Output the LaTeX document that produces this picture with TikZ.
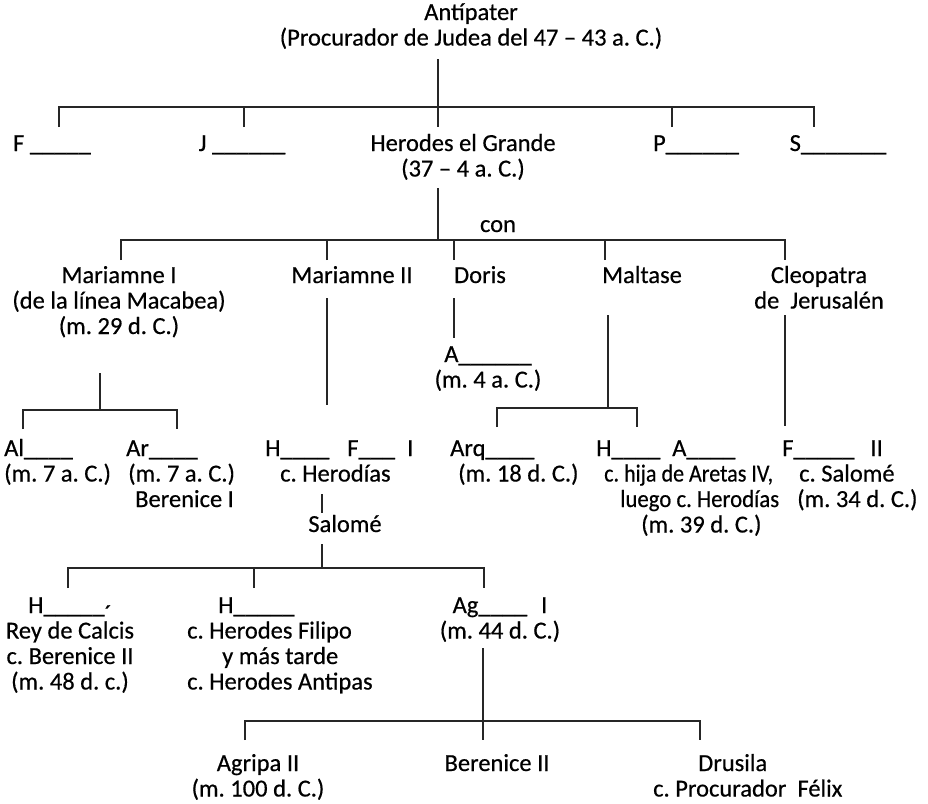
\documentclass[tikz,border=0pt]{standalone}
\usepackage{fontspec}
\setmainfont[FakeBold=0.5]{Carlito}
\frenchspacing
\begin{document}
\begin{tikzpicture}[x=1pt,y=-1pt,
  lbl/.style={inner sep=0pt, font=\fontsize{24.5}{25.5}\selectfont\frenchspacing, align=center, anchor=base, text=black},
  lbll/.style={lbl, align=left, anchor=base west},
  link/.style={line width=1.3pt, draw=black!85}]
\useasboundingbox (0,0) rectangle (928,803);
% ---- texts (anchor = baseline of the last line) ----
\node[lbl] (antip) at (471,45.5) {Antípater\\(Procurador de Judea del 47 – 43 a. C.)};
\node[lbl] (f) at (52,151) {F \_\_\_\_\_};
\node[lbl] (j) at (242,151) {J \_\_\_\_\_\_};
\node[lbl] (herodes) at (463,176.5) {Herodes el Grande\\(37 – 4 a. C.)};
\node[lbl] (p) at (696,151) {P\_\_\_\_\_\_};
\node[lbl] (s) at (838,151) {S\_\_\_\_\_\_\_};
\node[lbl] (con) at (498,232) {con};
\node[lbl] (mar1) at (119,334) {Mariamne I\\(de la línea Macabea)\\(m. 29 d. C.)};
\node[lbl] (mar2) at (352,283) {Mariamne II};
\node[lbl] (doris) at (480,283) {Doris};
\node[lbl] (maltase) at (642,283) {Maltase};
\node[lbl] (cleo) at (819,308.5) {Cleopatra\\de\ \ Jerusalén};
\node[lbl] (antig) at (488,387.5) {A\_\_\_\_\_\_\\(m. 4 a. C.)};
\node[lbll] (al) at (4,481.5) {Al\_\_\_\_\\(m. 7 a. C.)};
\node[lbll] (ar) at (126,507) {Ar\_\_\_\_\\\hspace*{2pt}(m. 7 a. C.)\\\hspace*{9pt}Berenice I};
\node[lbll] (hfi) at (265,481.5) {H\_\_\_\_\hspace{18pt}F\_\_\_\hspace{12pt}I\\\hspace*{15pt}c. Herodías};
\node[lbll] (arq) at (450,481.5) {Arq\_\_\_\_\\\hspace*{8pt}(m. 18 d. C.)};
\node[lbll] (ha) at (596,532.5) {H\_\_\_\_\hspace{12pt}A\_\_\_\_\\\hspace*{8pt}\scalebox{0.9}[1]{c. hija de Aretas IV,}\\\hspace*{24pt}\scalebox{0.93}[1]{luego c. Herodías}\\\hspace*{45pt}(m. 39 d. C.)};
\node[lbll] (fii) at (782,507) {F\_\_\_\_\_\hspace{16pt}II\\\hspace*{17pt}c. Salomé\\\hspace*{15pt}(m. 34 d. C.)};
\node[lbl] (salome) at (345,532) {Salomé};
\node[lbl] (hc) at (70,689.5) {H\_\_\_\_\_\raisebox{-9pt}[0pt][0pt]{´}\\Rey de Calcis\\c. Berenice II\\(m. 48 d. c.)};
\node[lbll] (hf) at (187,689.5) {\hspace*{31pt}H\_\_\_\_\_\\c. Herodes Filipo\\\hspace*{35pt}y más tarde\\c. Herodes Antipas};
\node[lbl] (ag) at (500,638.5) {Ag\_\_\_\_\hspace{14pt}I\\(m. 44 d. C.)};
\node[lbl] (agripa) at (258,796.5) {Agripa II\\(m. 100 d. C.)};
\node[lbl] (ber2) at (497,771) {Berenice II};
\node[lbll] (drus) at (653,796.5) {\hspace*{45pt}Drusila\\c. Procurador\ \ Félix};
% ---- connector points ----
\coordinate (a0) at (438,59);  \coordinate (a1) at (438,107);
\coordinate (fT) at (59,127);  \coordinate (jT) at (244,127);
\coordinate (hT) at (438,127); \coordinate (pT) at (672,127);
\coordinate (sT) at (814,127);
\coordinate (b0) at (438,188); \coordinate (b1) at (438,240);
\coordinate (m1T) at (121,260); \coordinate (m2T) at (327,260);
\coordinate (dT) at (454,260);  \coordinate (mtT) at (605,260);
\coordinate (cT) at (785,260);
\coordinate (m2a) at (327,298); \coordinate (m2b) at (327,405);
\coordinate (da) at (454,298);  \coordinate (db) at (454,338);
\coordinate (mta) at (608,315); \coordinate (mtb) at (608,408);
\coordinate (arqT) at (497,427); \coordinate (haT) at (637,427);
\coordinate (ca) at (785,315);  \coordinate (cb) at (785,426);
\coordinate (m1a) at (100,373); \coordinate (m1b) at (100,410);
\coordinate (alT) at (23,429);  \coordinate (arT) at (177,429);
\coordinate (ha0) at (322,494); \coordinate (ha1) at (322,513);
\coordinate (sa0) at (322,544); \coordinate (sa1) at (322,568);
\coordinate (hcT) at (68,588);  \coordinate (hfT) at (254,588);
\coordinate (agT) at (484,588);
\coordinate (g0) at (483,648);  \coordinate (g1) at (483,721);
\coordinate (g2) at (483,740);
\coordinate (agrT) at (245,740); \coordinate (drT) at (700,740);
% ---- connectors ----
\draw[link] (a0) -- (hT);
\draw[link] (fT) |- (a1) -| (sT);
\draw[link] (jT) -- (jT |- a1);
\draw[link] (pT) -- (pT |- a1);
\draw[link] (b0) -- (b1);
\draw[link] (m1T) |- (b1) -| (cT);
\draw[link] (m2T) -- (m2T |- b1);
\draw[link] (dT) -- (dT |- b1);
\draw[link] (mtT) -- (mtT |- b1);
\draw[link] (m2a) -- (m2b);
\draw[link] (da) -- (db);
\draw[link] (mta) -- (mtb);
\draw[link] (arqT) |- (mtb) -| (haT);
\draw[link] (ca) -- (cb);
\draw[link] (m1a) -- (m1b);
\draw[link] (alT) |- (m1b) -| (arT);
\draw[link] (ha0) -- (ha1);
\draw[link] (sa0) -- (sa1);
\draw[link] (hcT) |- (sa1) -| (agT);
\draw[link] (hfT) -- (hfT |- sa1);
\draw[link] (g0) -- (g2);
\draw[link] (agrT) |- (g1) -| (drT);
\end{tikzpicture}
\end{document}
